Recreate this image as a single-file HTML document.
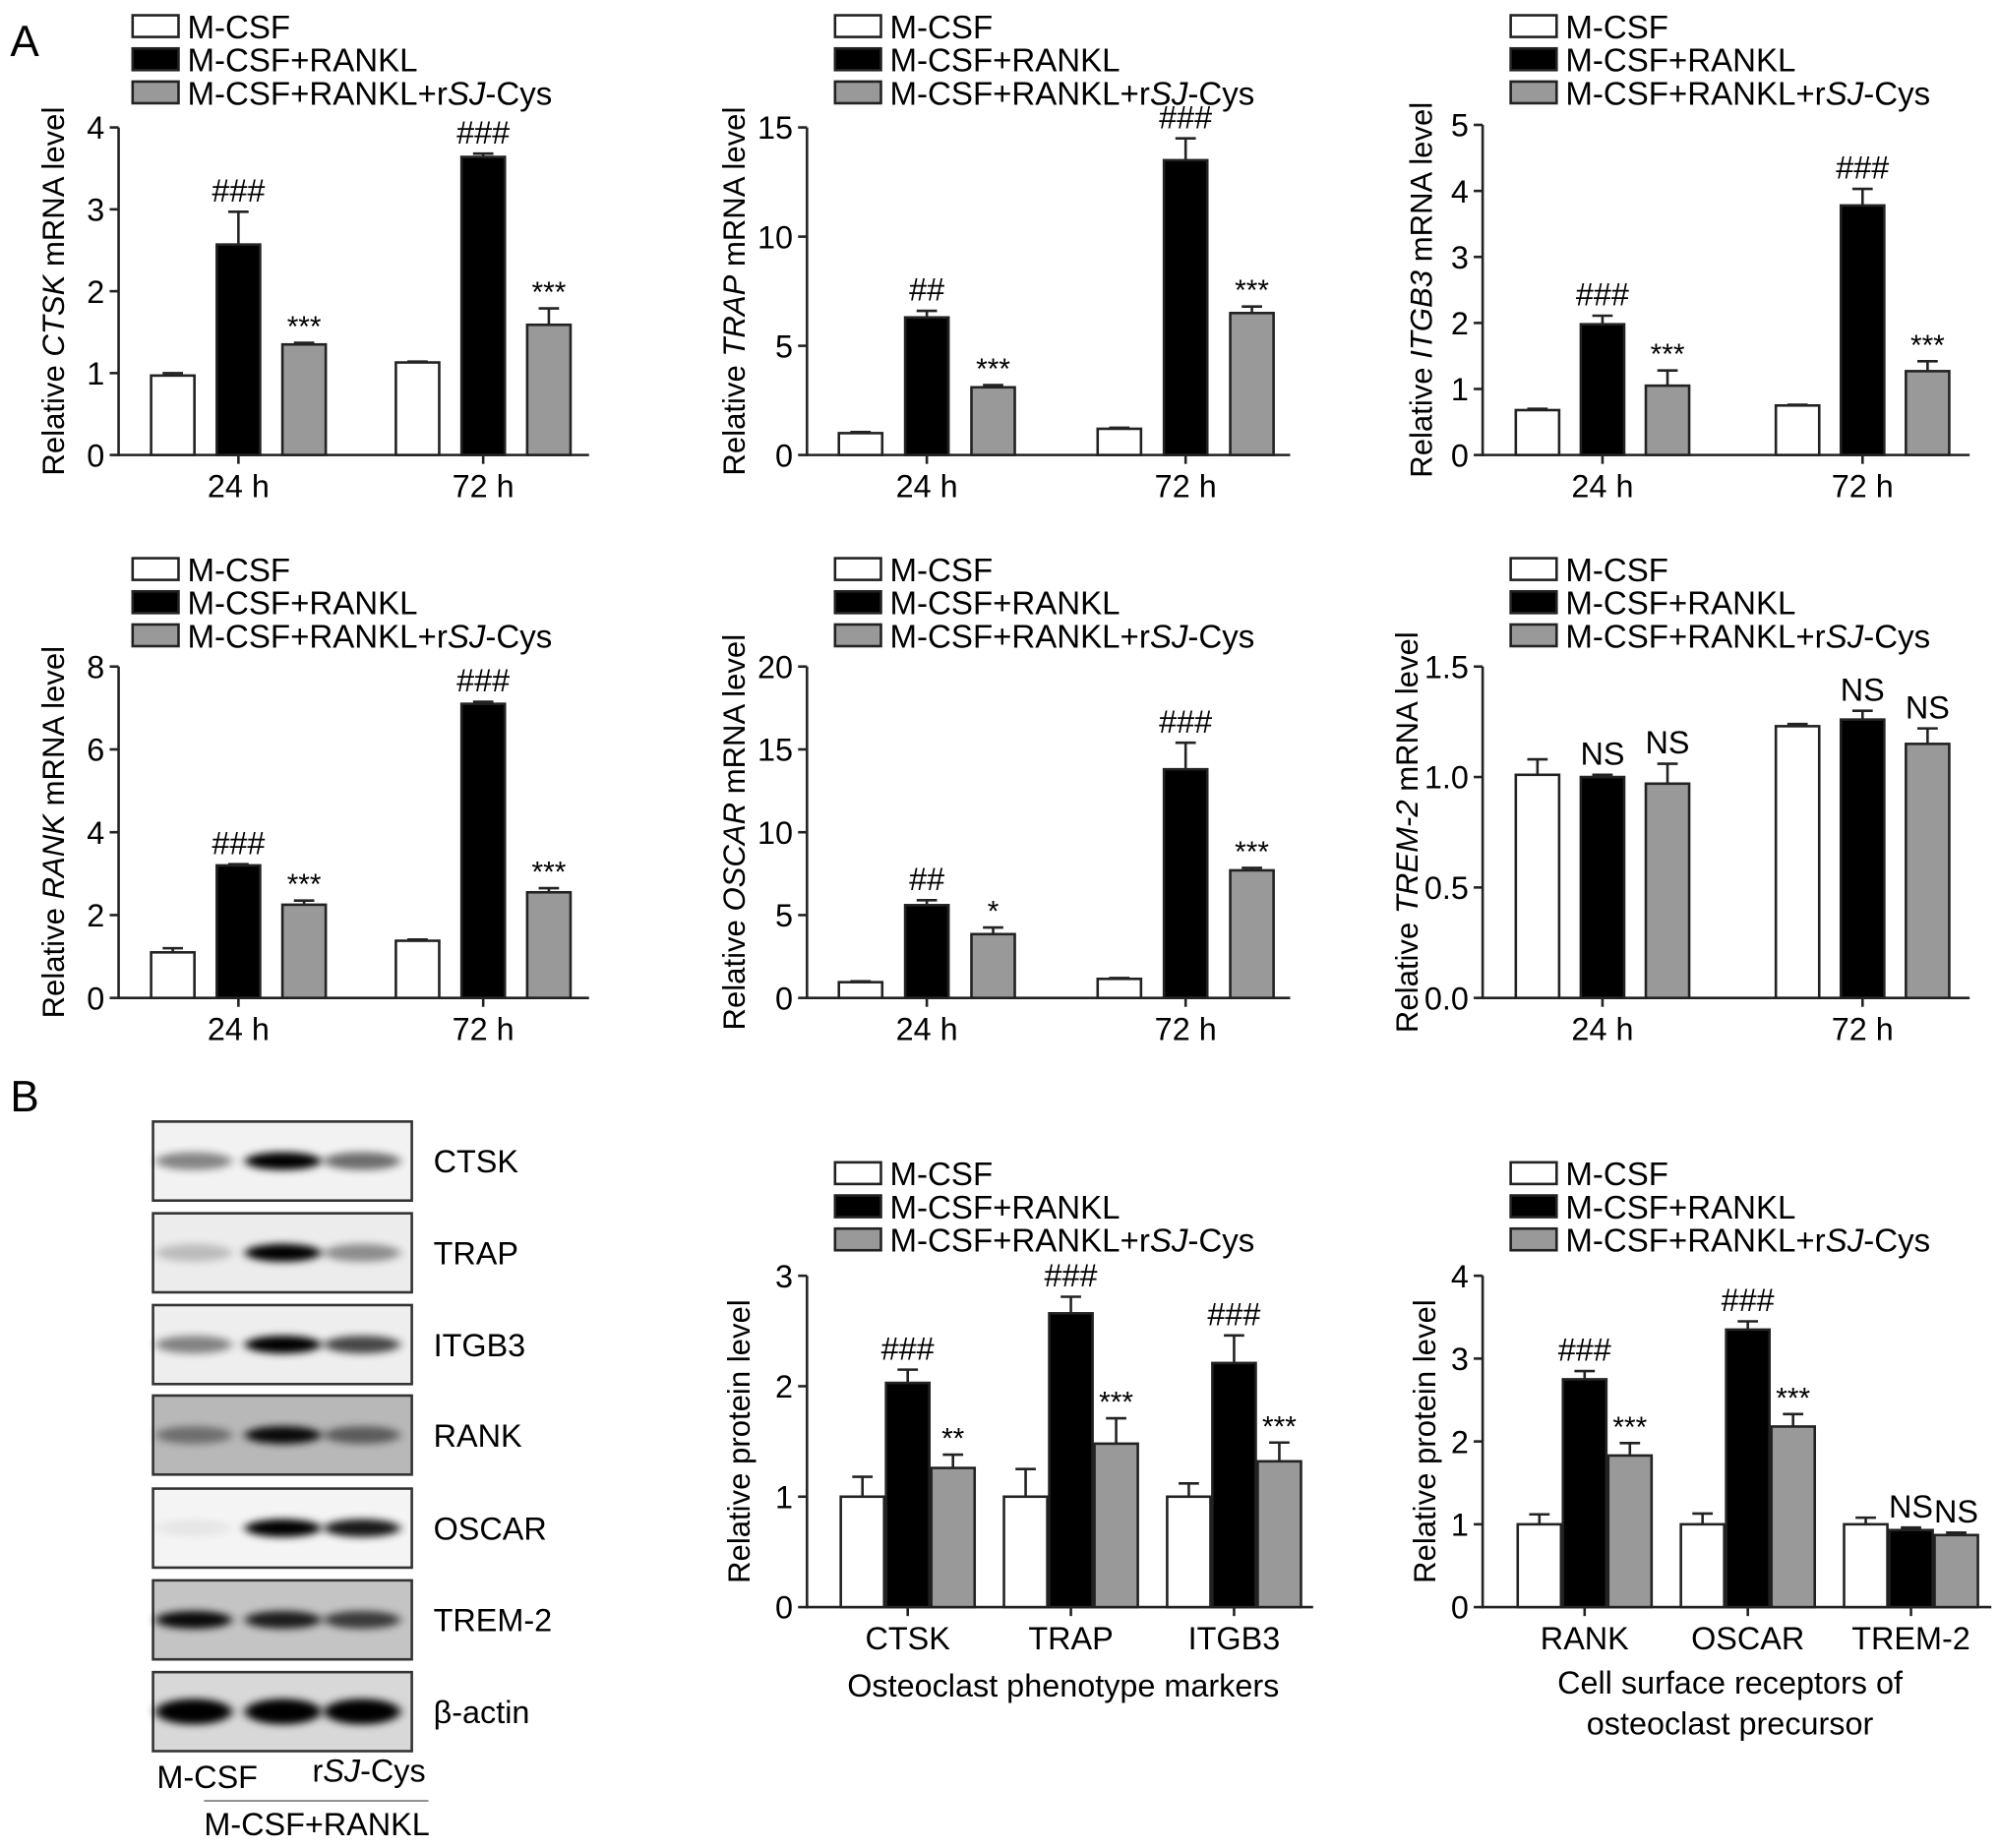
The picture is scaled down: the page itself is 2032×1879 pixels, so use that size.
<!DOCTYPE html>
<html><head><meta charset="utf-8">
<style>
html,body{margin:0;padding:0;background:#fff;}
svg{display:block;font-family:"Liberation Sans",Arial,sans-serif;}
</style></head>
<body>
<svg id="fig" width="2032" height="1879" viewBox="0 0 1568 1450" xmlns="http://www.w3.org/2000/svg">
<defs><filter id="blur" x="-30%" y="-100%" width="160%" height="300%"><feGaussianBlur stdDeviation="4 3"/></filter></defs>
<text x="8" y="44" font-size="34">A</text>
<text x="8" y="872" font-size="34">B</text>
<g id="charts"></g>
<g id="blots"></g>
</svg>
<script>
const groups=["M-CSF","M-CSF+RANKL","M-CSF+RANKL+rSJ-Cys"];
const timeCats=["24 h","72 h"];
const protCats1=["CTSK","TRAP","ITGB3"];
const protCats2=["RANK","OSCAR","TREM-2"];
const ctskVals=[[0.97,2.57,1.35],[1.13,3.64,1.59]];
const ctskErr=[[0.03,0.4,0.02],[0.01,0.04,0.2]];
const ctskAnn=[["","###","***"],["","###","***"]];
const trapVals=[[1.0,6.3,3.1],[1.2,13.5,6.5]];
const trapErr=[[0.05,0.3,0.1],[0.05,1.0,0.3]];
const trapAnn=[["","##","***"],["","###","***"]];
const itgb3Vals=[[0.68,1.98,1.05],[0.75,3.78,1.27]];
const itgb3Err=[[0.02,0.13,0.23],[0.01,0.25,0.15]];
const itgb3Ann=[["","###","***"],["","###","***"]];
const rankVals=[[1.1,3.2,2.25],[1.38,7.1,2.55]];
const rankErr=[[0.1,0.03,0.1],[0.03,0.05,0.1]];
const rankAnn=[["","###","***"],["","###","***"]];
const oscarVals=[[0.95,5.6,3.85],[1.15,13.8,7.7]];
const oscarErr=[[0.05,0.3,0.4],[0.05,1.6,0.15]];
const oscarAnn=[["","##","*"],["","###","***"]];
const tremVals=[[1.01,1.0,0.97],[1.23,1.26,1.15]];
const tremErr=[[0.07,0.01,0.09],[0.01,0.04,0.07]];
const tremAnn=[["","NS","NS"],["","NS","NS"]];
const prot1Vals=[[1.0,2.03,1.26],[1.0,2.66,1.48],[1.0,2.21,1.32]];
const prot1Err=[[0.18,0.12,0.12],[0.25,0.15,0.23],[0.12,0.25,0.17]];
const prot1Ann=[["","###","**"],["","###","***"],["","###","***"]];
const prot2Vals=[[1.0,2.75,1.83],[1.0,3.35,2.18],[1.0,0.93,0.87]];
const prot2Err=[[0.12,0.1,0.15],[0.13,0.1,0.15],[0.08,0.03,0.03]];
const prot2Ann=[["","###","***"],["","###","***"],["","NS","NS"]];
const ticksA=[0,1,2,3,4];
const ticksB=[0,5,10,15];
const ticksC=[0,1,2,3,4,5];
const ticksD=[0,2,4,6,8];
const ticksE=[0,5,10,15,20];
const ticksF=[0,0.5,1.0,1.5];
const ticksG=[0,1,2,3];

const NS="http://www.w3.org/2000/svg";
const root=document.getElementById('charts');
const fills=["#fff","#000","#999"];
function el(tag,attrs,parent){const e=document.createElementNS(NS,tag);for(const k in attrs)e.setAttribute(k,attrs[k]);parent.appendChild(e);return e;}

function legend(g,x,y){
  groups.forEach((name,i)=>{
    const r=el('rect',{x:x,y:y+i*26,width:36,height:17,fill:fills[i],stroke:'#222','stroke-width':2},g);
    
    
    const t=el('text',{x:x+43,y:y+i*26+18,'font-size':25.5},g);
    
    
    if(i<2)t.textContent=name;
    else{t.innerHTML='M-CSF+RANKL+r<tspan font-style="italic">SJ</tspan>-Cys';}
  });
}

function chart(o){
  const g=el('g',{},root);
  
  
  legend(g,o.lx,o.ly);
  const ymax=o.ticks[o.ticks.length-1];
  const yS=v=>o.y0-(v/ymax)*(o.y0-o.yTop);
  const ax=el('line',{x1:o.ax,y1:o.yTop,x2:o.ax,y2:o.y0+1,stroke:'#222','stroke-width':2},g);
  
  
  const xa=el('line',{x1:o.ax-1,y1:o.y0,x2:o.xEnd,y2:o.y0,stroke:'#222','stroke-width':2},g);
  
  
  o.ticks.forEach(t=>{
    el('line',{x1:o.ax-7,y1:yS(t),x2:o.ax,y2:yS(t),stroke:'#222','stroke-width':2},g);
    const tx=el('text',{x:o.ax-11,y:yS(t)+9,'font-size':25,'text-anchor':'end'},g);
    
    
    tx.textContent=o.fmt?t.toFixed(1):t;
  });
  const yl=el('text',{x:0,y:0,'font-size':24,'text-anchor':'middle',transform:`translate(${o.ylx},${(o.y0+o.yTop)/2}) rotate(-90)`},g);
  
  
  yl.innerHTML=o.ylab;
  const bw=o.bw;
  o.cats.forEach((c,ci)=>{
    const cx=o.cx0+ci*o.cstep;
    el('line',{x1:cx,y1:o.y0,x2:cx,y2:o.y0+7,stroke:'#222','stroke-width':2},g);
    const cl=el('text',{x:cx,y:o.y0+33,'font-size':25,'text-anchor':'middle'},g);
    
    
    cl.textContent=c;
    o.vals[ci].forEach((v,gi)=>{
      const bx=cx+(gi-1)*o.bstep-bw/2;
      const top=yS(v);
      const e=o.err[ci][gi];
      const et=yS(v+e);
      el('line',{x1:bx+bw/2,y1:top,x2:bx+bw/2,y2:et,stroke:'#222','stroke-width':2},g);
      el('line',{x1:bx+bw/2-8,y1:et,x2:bx+bw/2+8,y2:et,stroke:'#222','stroke-width':2},g);
      const b=el('rect',{x:bx,y:top,width:bw,height:o.y0-top,fill:fills[gi],stroke:'#222','stroke-width':2},g);
      
      
      const a=o.ann[ci][gi];
      if(a){
        const isStar=a.indexOf('*')>=0;
        const at=el('text',{x:bx+bw/2,y:et-(isStar?5:8),'font-size':isStar?23:25,'text-anchor':'middle'},g);
        
        
        at.textContent=a;
      }
    });
  });
  if(o.title){
    o.title.forEach((line,i)=>{
      const tt=el('text',{x:o.tx,y:o.ty+i*32,'font-size':25,'text-anchor':'middle'},g);
      
      
      tt.textContent=line;
    });
  }
}
const lab=(g,tail)=>`Relative <tspan font-style="italic">${g}</tspan> ${tail}`;
chart({name:'ctsk-mrna-chart',lx:104,ly:12,ax:93,xEnd:462,y0:357,yTop:100,ticks:ticksA,ylx:50,ylab:lab('CTSK','mRNA level'),cats:timeCats,cx0:187,cstep:192,bstep:51.5,bw:34,vals:ctskVals,err:ctskErr,ann:ctskAnn});
chart({name:'trap-mrna-chart',lx:655,ly:12,ax:633,xEnd:1012,y0:357,yTop:100,ticks:ticksB,ylx:584,ylab:lab('TRAP','mRNA level'),cats:timeCats,cx0:727,cstep:203,bstep:52,bw:34,vals:trapVals,err:trapErr,ann:trapAnn});
chart({name:'itgb3-mrna-chart',lx:1185,ly:12,ax:1163,xEnd:1545,y0:357,yTop:98,ticks:ticksC,ylx:1123,ylab:lab('ITGB3','mRNA level'),cats:timeCats,cx0:1257,cstep:204,bstep:51,bw:34,vals:itgb3Vals,err:itgb3Err,ann:itgb3Ann});
chart({name:'rank-mrna-chart',lx:104,ly:438,ax:93,xEnd:462,y0:783,yTop:523,ticks:ticksD,ylx:50,ylab:lab('RANK','mRNA level'),cats:timeCats,cx0:187,cstep:192,bstep:51.5,bw:34,vals:rankVals,err:rankErr,ann:rankAnn});
chart({name:'oscar-mrna-chart',lx:655,ly:438,ax:633,xEnd:1012,y0:783,yTop:523,ticks:ticksE,ylx:584,ylab:lab('OSCAR','mRNA level'),cats:timeCats,cx0:727,cstep:203,bstep:52,bw:34,vals:oscarVals,err:oscarErr,ann:oscarAnn});
chart({name:'trem2-mrna-chart',lx:1185,ly:438,ax:1163,xEnd:1545,y0:783,yTop:523,ticks:ticksF,fmt:true,ylx:1112,ylab:lab('TREM-2','mRNA level'),cats:timeCats,cx0:1257,cstep:204,bstep:51,bw:34,vals:tremVals,err:tremErr,ann:tremAnn});
chart({name:'phenotype-protein-chart',lx:655,ly:912,ax:633,xEnd:1030,y0:1261,yTop:1001,ticks:ticksG,ylx:588,ylab:'Relative protein level',cats:protCats1,cx0:712,cstep:128,bstep:35.5,bw:34,vals:prot1Vals,err:prot1Err,ann:prot1Ann,title:['Osteoclast phenotype markers'],tx:834,ty:1331});
chart({name:'receptor-protein-chart',lx:1185,ly:912,ax:1163,xEnd:1562,y0:1261,yTop:1001,ticks:ticksA,ylx:1126,ylab:'Relative protein level',cats:protCats2,cx0:1243,cstep:128,bstep:35.5,bw:34,vals:prot2Vals,err:prot2Err,ann:prot2Ann,title:['Cell surface receptors of','osteoclast precursor'],tx:1357,ty:1329});

// western blots
const blotNames=["CTSK","TRAP","ITGB3","RANK","OSCAR","TREM-2","β-actin"];
const blotTops=[880,952,1024,1095,1168,1240,1312];
const blotBg=["#f2f2f2","#ececec","#eeeeee","#b8b8b8","#f4f4f4","#c4c4c4","#d8d8d8"];
const bandInt=[[0.45,1,0.55],[0.2,1,0.4],[0.45,1,0.7],[0.4,0.95,0.5],[0.05,1,0.9],[0.95,0.85,0.7],[1,1,1]];
const bg=document.getElementById('blots');
blotNames.forEach((nm,i)=>{
  const g=el('g',{},bg);
  
  
  const y=blotTops[i];
  el('rect',{x:120,y:y,width:203,height:62,fill:blotBg[i],stroke:'#333','stroke-width':2},g);
  bandInt[i].forEach((v,j)=>{
    const cx=[152,222,284][j];
    el('ellipse',{cx:cx,cy:y+31,rx:30,ry:i==6?10:7,fill:'#000',opacity:v,filter:'url(#blur)'},g);
  });
  const t=el('text',{x:340,y:y+40,'font-size':25},g);
  
  
  t.textContent=nm;
});
const b1=el('text',{x:123,y:1403,'font-size':25},bg);


b1.textContent='M-CSF';
const b2=el('text',{x:245,y:1398,'font-size':25},bg);


b2.innerHTML='r<tspan font-style="italic">SJ</tspan>-Cys';
el('line',{x1:160,y1:1413,x2:336,y2:1413,stroke:'#888','stroke-width':1.5},bg);
const b3=el('text',{x:160,y:1440,'font-size':25},bg);


b3.textContent='M-CSF+RANKL';
</script>
</body></html>
